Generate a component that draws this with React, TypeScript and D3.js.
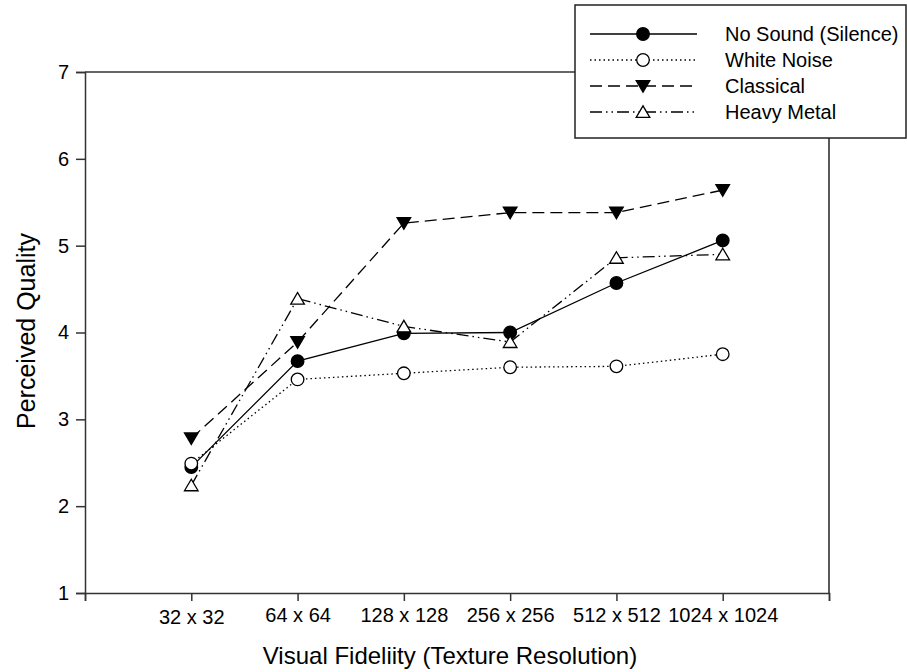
import { useEffect, useRef } from 'react';
import * as d3 from 'd3';

const categories = ['32 x 32', '64 x 64', '128 x 128', '256 x 256', '512 x 512', '1024 x 1024'];
const noSound = [2.45, 3.67, 3.99, 4.0, 4.57, 5.06];
const whiteNoise = [2.49, 3.46, 3.53, 3.6, 3.61, 3.75];
const classical = [2.78, 3.89, 5.26, 5.38, 5.38, 5.64];
const heavyMetal = [2.24, 4.39, 4.07, 3.89, 4.86, 4.9];
const yTicks = [1, 2, 3, 4, 5, 6, 7];

const series = [
  { name: 'No Sound (Silence)', values: noSound, dash: null, marker: 'circle', fill: '#000' },
  { name: 'White Noise', values: whiteNoise, dash: '1.5,3', marker: 'circle', fill: '#fff' },
  { name: 'Classical', values: classical, dash: '12,6', marker: 'down', fill: '#000' },
  { name: 'Heavy Metal', values: heavyMetal, dash: '12,4,1.5,4,1.5,4', marker: 'up', fill: '#fff' },
];

const FONT = 'Liberation Sans, Arial, sans-serif';

function drawMarker(g, type, fill, cx, cy) {
  if (type === 'circle') {
    g.append('circle').attr('cx', cx).attr('cy', cy).attr('r', 6.3)
      .attr('fill', fill).attr('stroke', '#000').attr('stroke-width', 1.3);
  } else {
    const s = 6.8;
    const pts = type === 'down'
      ? [[cx - s, cy - s * 0.8], [cx + s, cy - s * 0.8], [cx, cy + s * 0.9]]
      : [[cx - s, cy + s * 0.8], [cx + s, cy + s * 0.8], [cx, cy - s * 0.9]];
    g.append('polygon').attr('points', pts.map(p => p.join(',')).join(' '))
      .attr('fill', fill).attr('stroke', '#000').attr('stroke-width', 1.3);
  }
}

export default function App() {
  const svgRef = useRef(null);

  useEffect(() => {
    const svg = d3.select(svgRef.current);
    svg.selectAll('*').remove();

    const left = 85, right = 829, top = 72, bottom = 593;

    const x = d3.scaleLinear().domain([0, 7]).range([left, right]);
    const y = d3.scaleLinear().domain([1, 7]).range([bottom, top]);

    // frame (top & right)
    svg.append('line').attr('x1', left).attr('x2', right).attr('y1', top).attr('y2', top)
      .attr('stroke', '#333').attr('stroke-width', 1.5);
    svg.append('line').attr('x1', right).attr('x2', right).attr('y1', top).attr('y2', bottom)
      .attr('stroke', '#222').attr('stroke-width', 1.5);

    const yAxis = svg.append('g')
      .attr('transform', `translate(${left},0)`)
      .call(d3.axisLeft(y).tickValues(yTicks).tickSize(9).tickPadding(7).tickFormat(d3.format('d')));
    yAxis.select('.domain').attr('stroke', '#333').attr('stroke-width', 1.5);
    yAxis.selectAll('.tick line').attr('stroke', '#333').attr('stroke-width', 1.5);
    yAxis.selectAll('text').attr('font-family', FONT).attr('font-size', 20).attr('fill', '#000');

    const xAxis = svg.append('g')
      .attr('transform', `translate(0,${bottom})`)
      .call(d3.axisBottom(x).tickValues(d3.range(0, 8)).tickSize(8).tickPadding(7)
        .tickFormat(d => categories[d - 1] || ''));
    xAxis.select('.domain').attr('stroke', '#333').attr('stroke-width', 1.5);
    xAxis.selectAll('.tick line').attr('stroke', '#333').attr('stroke-width', 1.5);
    xAxis.selectAll('text').attr('font-family', FONT).attr('font-size', 20).attr('fill', '#000');
    xAxis.selectAll('.tick text').attr('dy', (d) => (d === 1 ? '0.8em' : '0.71em'));

    svg.append('text').attr('x', 450).attr('y', 664)
      .attr('text-anchor', 'middle').attr('font-family', FONT).attr('font-size', 24)
      .text('Visual Fideliity (Texture Resolution)');
    svg.append('text').attr('transform', `translate(35,331) rotate(-90)`)
      .attr('text-anchor', 'middle').attr('font-family', FONT).attr('font-size', 25)
      .text('Perceived Quality');

    const line = d3.line().x((d, i) => x(i + 1)).y(d => y(d));

    series.forEach(s => {
      svg.append('path').datum(s.values).attr('d', line)
        .attr('fill', 'none').attr('stroke', '#000').attr('stroke-width', 1.3)
        .attr('stroke-dasharray', s.dash);
    });
    series.forEach(s => {
      s.values.forEach((v, i) => drawMarker(svg, s.marker, s.fill, x(i + 1), y(v)));
    });

    // legend
    const lg = svg.append('g');
    lg.append('rect').attr('x', 575).attr('y', 5).attr('width', 331).attr('height', 133)
      .attr('fill', '#fff').attr('stroke', '#222').attr('stroke-width', 1.5);
    series.forEach((s, i) => {
      const ly = 34 + i * 26;
      lg.append('line').attr('x1', 590).attr('x2', 697).attr('y1', ly).attr('y2', ly)
        .attr('stroke', '#000').attr('stroke-width', 1.3).attr('stroke-dasharray', s.dash);
      drawMarker(lg, s.marker, s.fill, 643, ly);
      lg.append('text').attr('x', 725).attr('y', ly).attr('dy', '0.35em')
        .attr('font-family', FONT).attr('font-size', 20).text(s.name);
    });
  }, []);

  return (
    <svg ref={svgRef} width={907} height={672}
      style={{ position: 'absolute', left: 0, top: 0, background: '#fff' }} />
  );
}
